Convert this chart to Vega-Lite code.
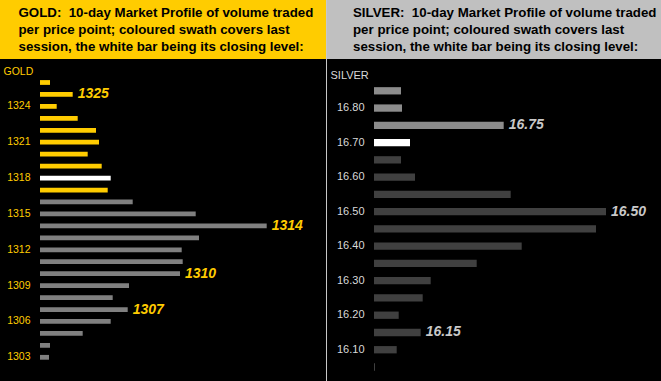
{
  "$schema": "https://vega.github.io/schema/vega-lite/v6.json",
  "background": "#c8c8c8",
  "padding": 0,
  "columns": 2,
  "align": "each",
  "spacing": {"row": 0, "column": 1},
  "config": {"view": {"stroke": null}, "font": "Liberation Sans"},
  "resolve": {"scale": {"color": "independent", "x": "independent", "y": "independent"}},
  "concat": [
    {
      "width": 326, "height": 59,
      "view": {"fill": "#FFCC00", "stroke": null},
      "data": {"values": [
        {"line": 1, "text": "GOLD:\u00a0 10-day Market Profile of volume traded"},
        {"line": 2, "text": "per price point; coloured swath covers last"},
        {"line": 3, "text": "session, the white bar being its closing level:"}
      ]},
      "mark": {"type": "text", "align": "left", "baseline": "alphabetic", "font": "Liberation Sans", "fontWeight": "bold", "fontSize": 13.3, "color": "#000000"},
      "encoding": {
        "y": {"field": "line", "type": "ordinal", "axis": null, "scale": {"padding": 0.735, "align": 0.68}},
        "x": {"value": 18.5},
        "text": {"field": "text"}
      }
    },
    {
      "width": 334, "height": 59,
      "view": {"fill": "#C0C0C0", "stroke": null},
      "data": {"values": [
        {"line": 1, "text": "SILVER:\u00a0 10-day Market Profile of volume traded"},
        {"line": 2, "text": "per price point; coloured swath covers last"},
        {"line": 3, "text": "session, the white bar being its closing level:"}
      ]},
      "mark": {"type": "text", "align": "left", "baseline": "alphabetic", "font": "Liberation Sans", "fontWeight": "bold", "fontSize": 13.3, "color": "#000000"},
      "encoding": {
        "y": {"field": "line", "type": "ordinal", "axis": null, "scale": {"padding": 0.735, "align": 0.68}},
        "x": {"value": 26},
        "text": {"field": "text"}
      }
    },
    {
      "width": 326, "height": 322,
      "view": {"fill": "#000000", "stroke": null},
      "data": {"values": [
        {"price": 1326, "vol": 10, "s": "last"},
        {"price": 1325, "vol": 32.7, "s": "last"},
        {"price": 1324, "vol": 16.7, "s": "last"},
        {"price": 1323, "vol": 37.7, "s": "last"},
        {"price": 1322, "vol": 56, "s": "last"},
        {"price": 1321, "vol": 59, "s": "last"},
        {"price": 1320, "vol": 47.7, "s": "last"},
        {"price": 1319, "vol": 61.7, "s": "last"},
        {"price": 1318, "vol": 70.7, "s": "close"},
        {"price": 1317, "vol": 67.7, "s": "last"},
        {"price": 1316, "vol": 92.7, "s": "prior"},
        {"price": 1315, "vol": 155.7, "s": "prior"},
        {"price": 1314, "vol": 226.7, "s": "prior"},
        {"price": 1313, "vol": 159, "s": "prior"},
        {"price": 1312, "vol": 141.7, "s": "prior"},
        {"price": 1311, "vol": 142.7, "s": "prior"},
        {"price": 1310, "vol": 140, "s": "prior"},
        {"price": 1309, "vol": 89, "s": "prior"},
        {"price": 1308, "vol": 72.7, "s": "prior"},
        {"price": 1307, "vol": 87.7, "s": "prior"},
        {"price": 1306, "vol": 70.7, "s": "prior"},
        {"price": 1305, "vol": 42.7, "s": "prior"},
        {"price": 1304, "vol": 10, "s": "prior"},
        {"price": 1303, "vol": 9, "s": "prior"}
      ]},
      "encoding": {
        "y": {
          "field": "price", "type": "ordinal", "sort": "descending",
          "scale": {"paddingInner": 0.6, "paddingOuter": 0, "range": [21.1, 300.7]},
          "axis": {
            "orient": "left", "offset": -30, "ticks": false, "domain": false, "grid": false,
            "labelPadding": 0, "labelOverlap": false,
            "values": [1324, 1321, 1318, 1315, 1312, 1309, 1306, 1303],
            "labelColor": "#FFCC00", "labelFontSize": 10.5, "labelFont": "Liberation Sans",
            "title": "GOLD", "titleColor": "#FFCC00", "titleFontSize": 10.5, "titleFont": "Liberation Sans",
            "titleFontWeight": "normal", "titleAngle": 0, "titleAlign": "left", "titleBaseline": "alphabetic",
            "titleX": -27, "titleY": 15
          }
        }
      },
      "layer": [
        {
          "mark": {"type": "bar"},
          "encoding": {
            "x": {"field": "vol", "type": "quantitative", "scale": {"domain": [0, 286], "range": [40, 326], "nice": false, "zero": true}, "axis": null},
            "color": {"field": "s", "type": "nominal", "scale": {"domain": ["last", "close", "prior"], "range": ["#FFCC00", "#FFFFFF", "#808080"]}, "legend": null}
          }
        },
        {
          "transform": [{"filter": {"field": "price", "oneOf": [1325, 1314, 1310, 1307]}}],
          "mark": {"type": "text", "align": "left", "baseline": "middle", "dx": 5, "fontSize": 14, "fontWeight": "bold", "fontStyle": "italic", "color": "#FFCC00", "font": "Liberation Sans"},
          "encoding": {
            "x": {"field": "vol", "type": "quantitative"},
            "text": {"field": "price", "type": "ordinal"}
          }
        }
      ]
    },
    {
      "width": 334, "height": 322,
      "view": {"fill": "#000000", "stroke": null},
      "data": {"values": [
        {"price": "16.85", "vol": 27, "s": "last"},
        {"price": "16.80", "vol": 28, "s": "last"},
        {"price": "16.75", "vol": 129.7, "s": "last"},
        {"price": "16.70", "vol": 36, "s": "close"},
        {"price": "16.65", "vol": 27, "s": "prior"},
        {"price": "16.60", "vol": 41, "s": "prior"},
        {"price": "16.55", "vol": 136.7, "s": "prior"},
        {"price": "16.50", "vol": 232, "s": "prior"},
        {"price": "16.45", "vol": 222, "s": "prior"},
        {"price": "16.40", "vol": 147.7, "s": "prior"},
        {"price": "16.35", "vol": 102.7, "s": "prior"},
        {"price": "16.30", "vol": 56.7, "s": "prior"},
        {"price": "16.25", "vol": 48.7, "s": "prior"},
        {"price": "16.20", "vol": 24.7, "s": "prior"},
        {"price": "16.15", "vol": 46.7, "s": "prior"},
        {"price": "16.10", "vol": 22.7, "s": "prior"},
        {"price": "16.05", "vol": 1, "s": "prior"}
      ]},
      "encoding": {
        "y": {
          "field": "price", "type": "ordinal", "sort": "descending",
          "scale": {"paddingInner": 0.577, "paddingOuter": 0, "range": [28.15, 311.65]},
          "axis": {
            "orient": "left", "offset": -37, "ticks": false, "domain": false, "grid": false,
            "labelPadding": 0, "labelOverlap": false,
            "values": ["16.80", "16.70", "16.60", "16.50", "16.40", "16.30", "16.20", "16.10"],
            "labelColor": "#D9D9D9", "labelFontSize": 11, "labelFont": "Liberation Sans",
            "title": "SILVER", "titleColor": "#D9D9D9", "titleFontSize": 11, "titleFont": "Liberation Sans",
            "titleFontWeight": "normal", "titleAngle": 0, "titleAlign": "left", "titleBaseline": "alphabetic",
            "titleX": -34, "titleY": 19
          }
        }
      },
      "layer": [
        {
          "mark": {"type": "bar"},
          "encoding": {
            "x": {"field": "vol", "type": "quantitative", "scale": {"domain": [0, 287], "range": [47, 334], "nice": false, "zero": true}, "axis": null},
            "color": {"field": "s", "type": "nominal", "scale": {"domain": ["last", "close", "prior"], "range": ["#8C8C8C", "#FFFFFF", "#404040"]}, "legend": null}
          }
        },
        {
          "transform": [{"filter": {"field": "price", "oneOf": ["16.75", "16.50", "16.15"]}}],
          "mark": {"type": "text", "align": "left", "baseline": "middle", "dx": 5, "fontSize": 14, "fontWeight": "bold", "fontStyle": "italic", "color": "#C8C8C8", "font": "Liberation Sans"},
          "encoding": {
            "x": {"field": "vol", "type": "quantitative"},
            "text": {"field": "price", "type": "nominal"}
          }
        }
      ]
    }
  ]
}
